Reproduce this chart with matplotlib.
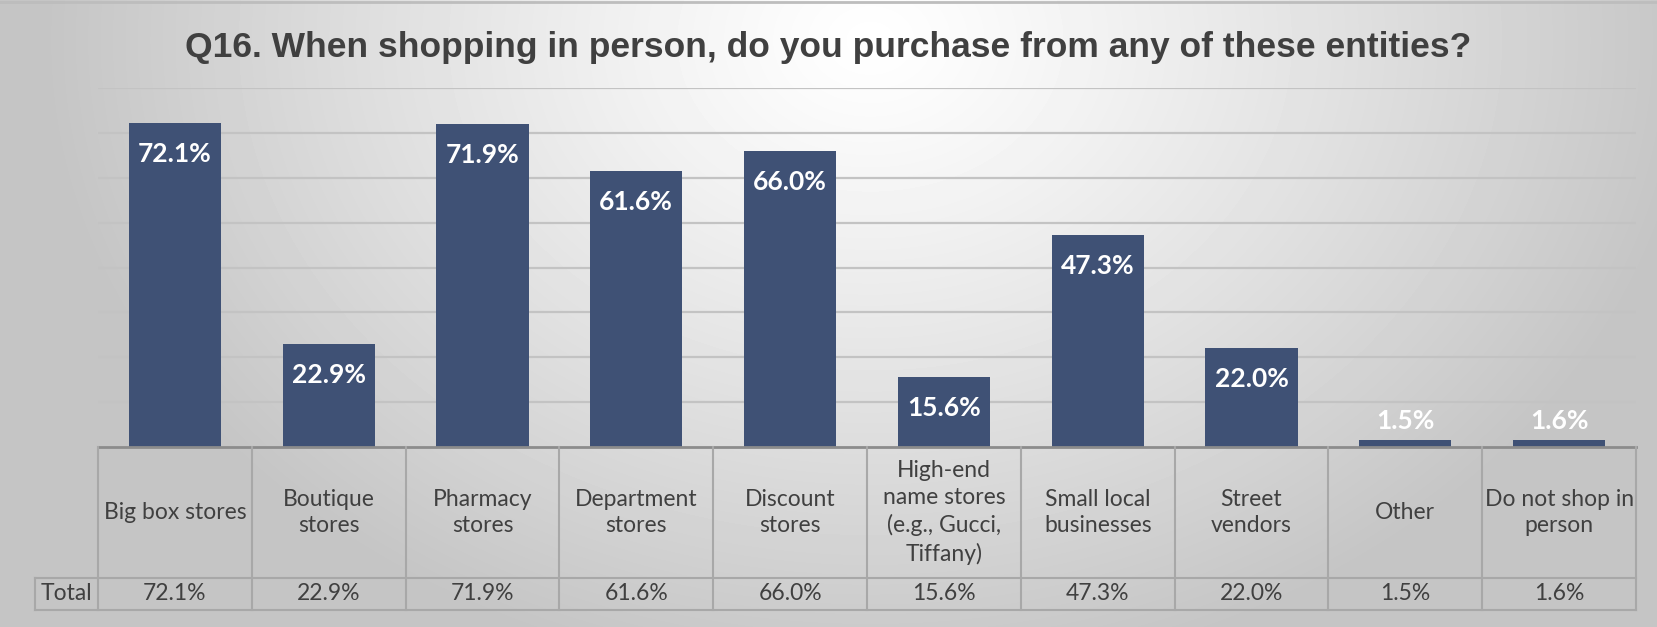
import numpy as np
import matplotlib.pyplot as plt
from matplotlib.transforms import blended_transform_factory

# Datos de la encuesta Q16
categorias = ["Big box stores", "Boutique\nstores", "Pharmacy\nstores", "Department\nstores",
              "Discount\nstores", "High-end\nname stores\n(e.g., Gucci,\nTiffany)", "Small local\nbusinesses",
              "Street\nvendors", "Other", "Do not shop in\nperson"]
valores = [72.1, 22.9, 71.9, 61.6, 66.0, 15.6, 47.3, 22.0, 1.5, 1.6]
etiqueta_fila = "Total"
titulo = "Q16. When shopping in person, do you purchase from any of these entities?"

W, H = 1657, 627
fig = plt.figure(figsize=(W / 100, H / 100), dpi=100)

# Fondo con degradado radial (blanco arriba al centro, gris en los bordes)
bg = fig.add_axes([0, 0, 1, 1], zorder=-10)
yy, xx = np.mgrid[0:H, 0:W]
d = np.sqrt(((xx - 870) / 830.0) ** 2 + ((yy - 40) / 650.0) ** 2)
gris = 1.0 - 0.23 * np.clip(d, 0, 1) ** 1.15
bg.imshow(gris, cmap="gray", vmin=0, vmax=1, aspect="auto", extent=[0, W, H, 0])
bg.plot([0, W], [1.5, 1.5], color="#bdbdbd", lw=2)
bg.set_xlim(0, W)
bg.set_ylim(H, 0)
bg.axis("off")

# Área del gráfico
left, right, top, base = 98, 1636, 88, 447
ax = fig.add_axes([left / W, 1 - base / H, (right - left) / W, (base - top) / H])
ax.patch.set_alpha(0)
x = np.arange(len(valores))
ax.bar(x, valores, width=0.6, color="#3F5175", zorder=3)
ax.set_xlim(-0.5, len(valores) - 0.5)
ax.set_ylim(0, 80)
for g in range(10, 81, 10):
    ax.axhline(g, color="#c3c3c3", lw=1.6, zorder=1)
for s in ax.spines.values():
    s.set_visible(False)
ax.set_xticks([])
ax.set_yticks([])

# Etiquetas de datos
fuente_num = ["Lato", "DejaVu Sans"]
for xi, v in zip(x, valores):
    pos = v - 6.9 if v > 10 else v + 4.3
    ax.text(xi, pos, f"{v:.1f}%", ha="center", va="center", color="white",
            fontsize=19, fontweight="bold", family=fuente_num, zorder=4)

# Tabla de datos debajo del eje
tr = blended_transform_factory(ax.transData, ax.transAxes)
alto = base - top
y_cab = -(578 - base) / alto
y_fin = -(610 - base) / alto
x_total = -0.5 + (35 - left) / ((right - left) / len(valores))
borde = "#a8a8a8"
kw = dict(transform=tr, clip_on=False, color=borde, lw=1.5, zorder=5)
ax.plot([-0.5, len(valores) - 0.5], [0, 0], **dict(kw, color="#8c8c8c", lw=2))
for b in np.arange(-0.5, len(valores), 1.0):
    ax.plot([b, b], [0, y_fin], **kw)
ax.plot([x_total, len(valores) - 0.5], [y_cab, y_cab], **kw)
ax.plot([x_total, len(valores) - 0.5], [y_fin, y_fin], **kw)
ax.plot([x_total, x_total], [y_cab, y_fin], **kw)

fuente_tabla = ["Lato", "DejaVu Sans"]
for xi, cat, v in zip(x, categorias, valores):
    ax.text(xi, y_cab / 2, cat, transform=tr, ha="center", va="center", color="#404040",
            fontsize=16.5, family=fuente_tabla, linespacing=1.35)
    ax.text(xi, (y_cab + y_fin) / 2, f"{v:.1f}%", transform=tr, ha="center", va="center",
            color="#404040", fontsize=16.5, family=fuente_tabla)
ax.text((x_total - 0.5) / 2, (y_cab + y_fin) / 2, etiqueta_fila, transform=tr, ha="center",
        va="center", color="#404040", fontsize=16.5, family=fuente_tabla)

# Título
fig.text(0.5, 1 - 57 / H, titulo, ha="center", va="baseline", color="#404040",
         fontsize=25.5, fontweight="bold", family=["Liberation Sans", "DejaVu Sans"])

fig.savefig("out.png", dpi=100)
